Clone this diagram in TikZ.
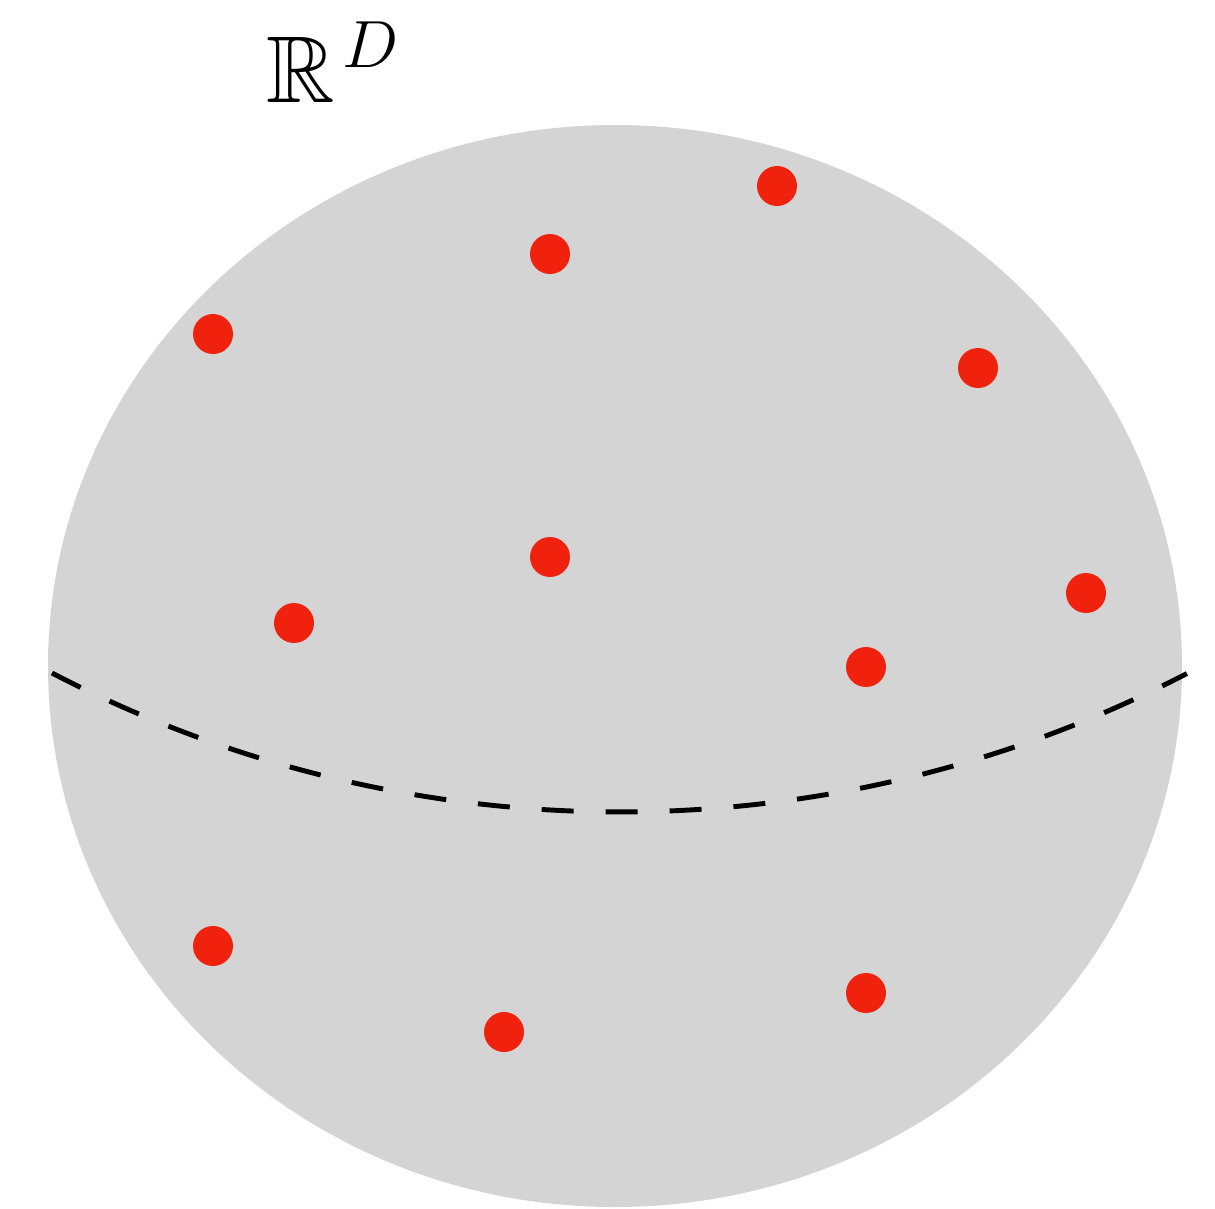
\RequirePackage{fix-cm}
\documentclass[tikz,border=0pt]{standalone}
\usepackage{amssymb}
\usepackage{tikz}
\usetikzlibrary{positioning}
\definecolor{ballgrey}{RGB}{212,212,212}
\definecolor{ptred}{RGB}{240,34,14}
\DeclareMathSizes{27}{27}{19}{14}

\begin{document}
\begin{tikzpicture}[
  ball/.style={fill=ballgrey, draw=none},
  pt/.style={circle, fill=ptred, draw=none, inner sep=0pt, minimum size=4mm},
  cut/.style={line width=1.4pt, dash pattern=on 3.2mm off 3.2mm, line cap=butt},
  lab/.style={font=\fontsize{27}{32}\selectfont, inner sep=0pt, anchor=base west}]
\useasboundingbox (0,0) rectangle (12.15,12.08);
\fill[ball] (6.15,5.42) ellipse [x radius=5.67, y radius=5.41];
\draw[cut] (0.52,5.35) coordinate (cutl)
  arc[start angle=-117.5, end angle=-62.55, radius=12.30] coordinate (cutr);
\foreach \name/\pos in {p1/{2.13,8.74}, p2/{5.50,9.54}, p3/{7.77,10.22},
    p4/{9.78,8.40}, p5/{5.50,6.51}, p6/{2.94,5.85}, p7/{10.86,6.15},
    p8/{8.66,5.41}, p9/{2.13,2.62}, p10/{5.04,1.76}, p11/{8.66,2.15}}
  \node[pt] (\name) at (\pos) {};
\node[lab] (space) at (2.66,11.06) {$\mathbb{R}^{\mkern2mu D}$};
\end{tikzpicture}
\end{document}
